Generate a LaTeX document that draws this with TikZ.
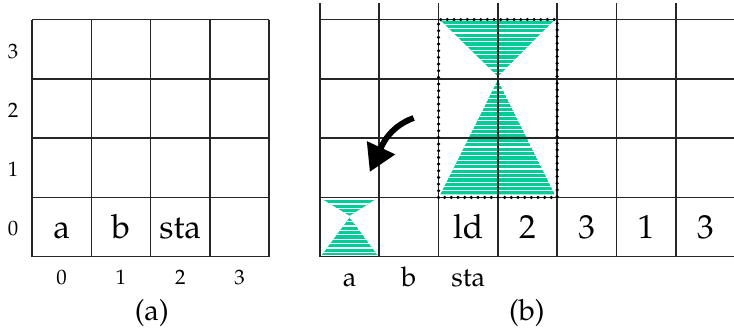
\documentclass[tikz,border=0pt]{standalone}
\usepackage[T1]{fontenc}
\usepackage{mathpazo}
\usetikzlibrary{arrows.meta}
\definecolor{hgteal}{RGB}{0,204,153}

% striped teal triangle, corners given as coordinates
\newcommand{\stripetri}[3]{%
  \begin{scope}
    \clip #1 -- #2 -- #3 -- cycle;
    \fill[hgteal] #1 -- #2 -- #3 -- cycle;
    \foreach \s in {0,0.074,...,4.3} \draw[stripe] (-1,\s) -- (8,\s);
  \end{scope}}

\begin{document}
\begin{tikzpicture}[
  gridline/.style={line width=0.75pt, black!85},
  cell/.style={anchor=base, inner sep=0pt, font=\fontsize{16}{18}\selectfont},
  axis/.style={anchor=base, inner sep=0pt, font=\fontsize{10}{12}\selectfont},
  under/.style={anchor=base, inner sep=0pt, font=\fontsize{13}{15}\selectfont},
  caption/.style={anchor=base, inner sep=0pt, font=\fontsize{14}{16}\selectfont},
  stripe/.style={white, line width=0.55pt},
  window/.style={line width=1.7pt, line cap=round, dash pattern=on 0pt off 3.2pt},
  move/.style={-{Triangle[length=0.45cm,width=0.5cm]}, line width=2.8pt},
]
\useasboundingbox (-0.54,-1.25) rectangle (11.84,4.33);

% (a) empty 4x4 board
\draw[gridline] (0,0) grid (4,4);
\foreach \i in {0,...,3} {
  \node[axis] (row\i) at (-0.32,\i+0.35) {\i};
  \node[axis] (col\i) at (\i+0.5,-0.47) {\i};
}
\node[cell] (ca) at (0.5,0.3) {a};
\node[cell] (cb) at (1.5,0.3) {b};
\node[cell] (csta) at (2.5,0.3) {sta};
\node[caption] (capa) at (2.02,-1.08) {(a)};

% (b) board after the move
\begin{scope}[shift={(4.857,0)}]
  % hourglasses under the grid
  \stripetri{(2.04,3.98)}{(3.94,3.98)}{(3,3.04)}
  \stripetri{(3,2.98)}{(2.03,1.05)}{(3.96,1.05)}
  \stripetri{(0.04,0.97)}{(0.94,0.97)}{(0.5,0.69)}
  \stripetri{(0.5,0.66)}{(0.03,0.03)}{(0.97,0.03)}

  \foreach \y in {0,...,4} \draw[gridline] (0,\y) -- (7,\y);
  \foreach \x in {0,...,6} \draw[gridline] (\x,0) -- (\x,4.28);

  \draw[window] (2,1) rectangle (4,4);

  \node[cell] (cld) at (2.5,0.3) {ld};
  \node[cell] (c2) at (3.5,0.3) {2};
  \node[cell] (c3) at (4.5,0.3) {3};
  \node[cell] (c1) at (5.5,0.3) {1};
  \node[cell] (c3b) at (6.5,0.3) {3};

  \node[under] (ua) at (0.5,-0.5) {a};
  \node[under] (ub) at (1.5,-0.5) {b};
  \node[under] (usta) at (2.5,-0.5) {sta};
  \node[caption] (capb) at (3.49,-1.08) {(b)};

  % the move arrow
  \coordinate (mvfrom) at (1.58,2.34);
  \coordinate (mvto) at (0.84,1.43);
  \draw[move] (mvfrom) to[out=200,in=65] (mvto);
\end{scope}
\end{tikzpicture}
\end{document}
